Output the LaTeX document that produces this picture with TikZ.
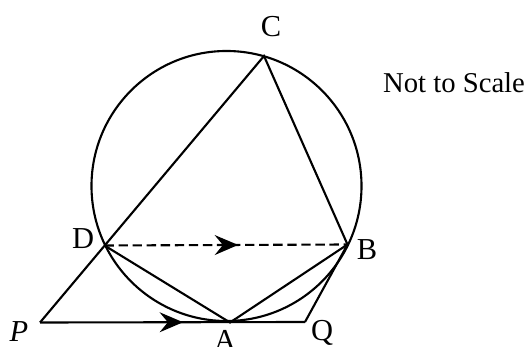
\documentclass[tikz,border=0pt]{standalone}
\usepackage{fontspec}
\setmainfont{Liberation Serif}
\usetikzlibrary{calc,arrows.meta,decorations.markings}
\tikzset{
  midarrow/.style={postaction={decorate,decoration={markings,
    mark=at position #1 with {\arrow{Stealth[length=20pt,width=17pt,inset=7pt]}}}}},
  lbl/.style={font=\fontsize{26}{30}\selectfont,inner sep=0pt}
}

\begin{document}
\begin{tikzpicture}[x=0.03cm,y=-0.03cm,line width=1.8pt]
\useasboundingbox (0,0) rectangle (531,347);
\coordinate (O) at (226.5,186);
\coordinate (C) at (264,56);
\coordinate (D) at (104.5,245.5);
\coordinate (B) at (347.5,244.5);
\coordinate (A) at (230,322.5);
\coordinate (P) at (40,322.5);
\coordinate (Q) at (305,322);
\draw (O) circle[radius=4.05cm];
\draw (P) -- (C) -- (B) -- (A) -- (D);
\draw (B) -- (Q);
\draw[midarrow=0.54] (P) -- (Q);
\draw[dash pattern=on 8pt off 4pt,midarrow=0.55] (D) -- (B);
\node[lbl] (lC) at (271,27){C};
\node[lbl] (lD) at (83,239){D};
\node[lbl] (lB) at (367,250){B};
\node[lbl] (lP) at (19,332){\textit{P}};
\node[lbl] (lA) at (225,340){A};
\node[lbl] (lQ) at (322,333){Q};
\node[lbl,font=\fontsize{24.5}{28}\selectfont,anchor=west] (note) at (382,83){Not to Scale};
\end{tikzpicture}
\end{document}
